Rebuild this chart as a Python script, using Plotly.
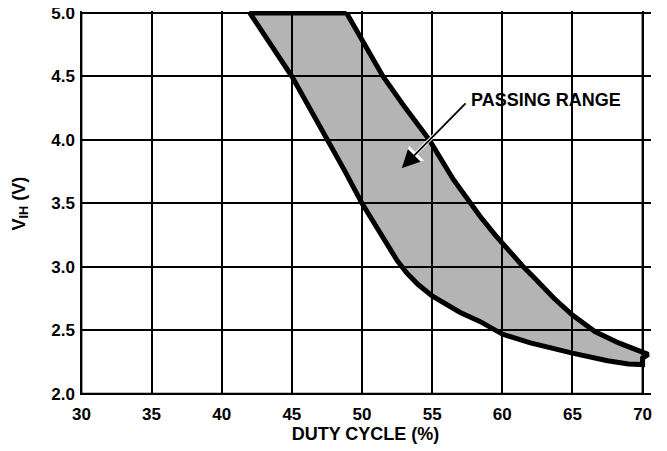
import plotly.graph_objects as go

# Data
# Upper (right) boundary of the passing range, top to bottom
upper_x = [48.9, 50.2, 51.5, 53.1, 54.8, 56.5, 57.5, 58.4, 59.5, 60.5, 61.5, 62.4, 63.7, 65.0, 66.6, 68.3, 70.0, 70.4, 70.0]
upper_y = [5.0, 4.75, 4.5, 4.25, 4.0, 3.69, 3.53, 3.40, 3.25, 3.12, 3.0, 2.90, 2.75, 2.62, 2.49, 2.40, 2.32, 2.31, 2.28]
# Lower (left) boundary, right to left
lower_x = [70.0, 69.0, 67.5, 65.0, 62.0, 60.0, 58.4, 57.0, 56.0, 55.0, 54.0, 53.2, 52.5, 51.4, 50.0, 48.8, 47.5, 46.3, 45.0, 43.5, 42.0]
lower_y = [2.23, 2.235, 2.26, 2.32, 2.40, 2.47, 2.57, 2.64, 2.70, 2.77, 2.86, 2.95, 3.05, 3.25, 3.5, 3.75, 4.0, 4.25, 4.5, 4.75, 5.0]

x_ticks = [30, 35, 40, 45, 50, 55, 60, 65, 70]
y_ticks = [2.0, 2.5, 3.0, 3.5, 4.0, 4.5, 5.0]

x_title = "DUTY CYCLE (%)"
y_title = "V<sub>IH</sub> (V)"
label_text = "PASSING RANGE"
arrow_tail = (57.49, 4.30)
arrow_head = (52.83, 3.777)
label_pos = (57.62, 4.316)

poly_x = upper_x + lower_x + [upper_x[0]]
poly_y = upper_y + lower_y + [upper_y[0]]

FONT = "Liberation Sans, Arial, Helvetica, sans-serif"

fig = go.Figure()
fig.add_trace(go.Scatter(
    x=poly_x, y=poly_y, mode="lines", fill="toself",
    fillcolor="rgba(0,0,0,0.294)",
    line=dict(color="black", width=5),
    hoverinfo="skip", showlegend=False,
))

# frame
fig.add_shape(type="rect", xref="x", yref="y",
              x0=x_ticks[0], x1=x_ticks[-1], y0=y_ticks[0], y1=y_ticks[-1],
              line=dict(color="black", width=2), layer="above")

# arrow: white outline then black arrow
fig.add_annotation(x=arrow_head[0], y=arrow_head[1], ax=arrow_tail[0], ay=arrow_tail[1],
                   xref="x", yref="y", axref="x", ayref="y", text="",
                   showarrow=True, arrowhead=2, arrowsize=1.2, arrowwidth=3.5,
                   arrowcolor="white", standoff=0)
fig.add_annotation(x=arrow_head[0], y=arrow_head[1], ax=arrow_tail[0], ay=arrow_tail[1],
                   xref="x", yref="y", axref="x", ayref="y", text="",
                   showarrow=True, arrowhead=2, arrowsize=2.0, arrowwidth=1.8,
                   arrowcolor="black", standoff=0)
fig.add_annotation(x=label_pos[0], y=label_pos[1], xref="x", yref="y",
                   text="<b>" + label_text + "</b>", showarrow=False,
                   xanchor="left", yanchor="middle",
                   font=dict(family=FONT, size=18, color="black"))

# y axis title
fig.add_annotation(x=-0.1042, y=0.4975, xref="paper", yref="paper",
                   text="<b>" + y_title + "</b>", showarrow=False, textangle=-90,
                   xanchor="center", yanchor="middle",
                   font=dict(family=FONT, size=18, color="black"))

fig.update_layout(
    template="none",
    width=667, height=451,
    margin=dict(l=71.6, r=23.6, t=3.4, b=64.3, autoexpand=False),
    paper_bgcolor="white", plot_bgcolor="white",
    font=dict(family=FONT, color="black"),
    xaxis=dict(
        range=[29.9, 70.6], tickvals=x_ticks, ticktext=[f"<b>{v}</b>" for v in x_ticks],
        showgrid=True, gridcolor="black", gridwidth=1.5, automargin=False,
        showline=False, zeroline=False, ticks="", ticklabeloverflow="allow",
        tickfont=dict(family=FONT, size=17, color="black"),
        ticklabelstandoff=7,
        title=dict(text="<b>" + x_title + "</b>", font=dict(family=FONT, size=18, color="black"), standoff=0),
    ),
    yaxis=dict(
        range=[1.99, 5.015], tickvals=y_ticks, ticktext=[f"<b>{v:.1f}</b>" for v in y_ticks],
        showgrid=True, gridcolor="black", gridwidth=1.5, automargin=False,
        showline=False, zeroline=False, ticks="", ticklabeloverflow="allow",
        tickfont=dict(family=FONT, size=17, color="black"),
        ticklabelstandoff=4,
    ),
)

fig.write_html("out.html")
